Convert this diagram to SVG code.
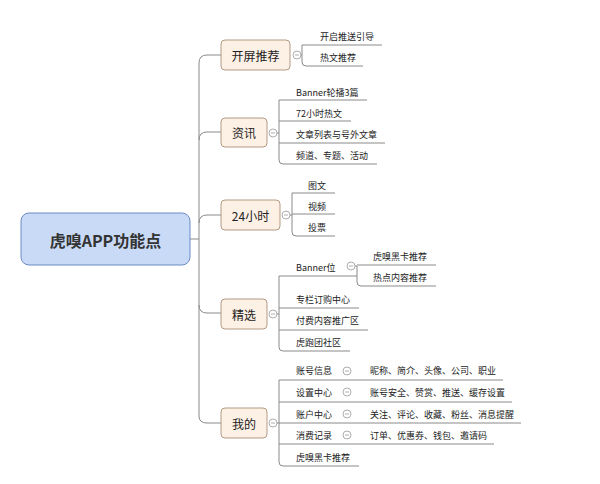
<svg xmlns="http://www.w3.org/2000/svg" width="600" height="484" viewBox="0 0 600 484">
<style>
text{font-family:"Noto Sans CJK SC","Liberation Sans",sans-serif;fill:#222}
.l{font-size:9px}
.b{font-size:12px;text-anchor:middle;dominant-baseline:central}
.bx{fill:#fdf0e5;stroke:#b39b86;stroke-width:1}
.c{fill:#fff;stroke:#999;stroke-width:0.8}
.cm{stroke:#999;stroke-width:0.8}
#connectors path{fill:none;stroke:#8a8a8a;stroke-width:1}
</style>
<rect width="600" height="484" fill="#fff"/>
<g id="connectors">
<path d="M190 239H199M199 63V416M199 63Q199 55 207 55H221M199 140Q199 132 207 132H221M199 223Q199 215 207 215H221M199 305Q199 313 207 313H221M199 416Q199 423 207 423H221"/>
<path d="M301 55H302M302 45V62Q302 66 306 66H363M302 45H382"/>
<path d="M277 133H279M279 100V160Q279 164 283 164H377M279 100H367M279 121H351M279 143H385"/>
<path d="M290 215H292M292 193V232Q292 236 296 236H335M292 193H335M292 214H335"/>
<path d="M277 314H279M279 276V347Q279 351 283 351H350M279 276H357M279 308H359M279 330H368"/>
<path d="M355 266H357V282Q357 286 361 286H436M357 265H436"/>
<path d="M277 423H279M279 380V462Q279 466 283 466H359M279 380H503M279 402H512M279 423H521M279 444H494"/>
</g>
<g id="root"><rect x="21" y="213" width="169" height="52" rx="8" fill="#c8daf6" stroke="#6d8cc4"/><text x="105.500" y="240" style="font-size:16px;font-weight:bold;text-anchor:middle;dominant-baseline:central;fill:#333">虎嗅APP功能点</text></g>
<g id="n1"><rect class="bx" x="221" y="40" width="69" height="30" rx="4"/><text class="b" x="255.500" y="55">开屏推荐</text><circle class="c" cx="297" cy="55" r="4"/><path class="cm" d="M295 55H299"/></g>
<g id="n2"><rect class="bx" x="221" y="118" width="46" height="29" rx="4"/><text class="b" x="244" y="132">资讯</text><circle class="c" cx="273" cy="133" r="4"/><path class="cm" d="M271 133H275"/></g>
<g id="n3"><rect class="bx" x="221" y="200" width="59" height="30" rx="4"/><text class="b" x="250.500" y="215">24小时</text><circle class="c" cx="286" cy="215" r="4"/><path class="cm" d="M284 215H288"/></g>
<g id="n4"><rect class="bx" x="221" y="299" width="46" height="30" rx="4"/><text class="b" x="244" y="314">精选</text><circle class="c" cx="273" cy="314" r="4"/><path class="cm" d="M271 314H275"/></g>
<g id="n5"><rect class="bx" x="221" y="408" width="46" height="30" rx="4"/><text class="b" x="244" y="423">我的</text><circle class="c" cx="273" cy="423" r="4"/><path class="cm" d="M271 423H275"/></g>
<g id="leaves">
<text class="l" x="320" y="40">开启推送引导</text>
<text class="l" x="320" y="61">热文推荐</text>
<text class="l" x="296" y="96">Banner轮播3篇</text>
<text class="l" x="296" y="117">72小时热文</text>
<text class="l" x="296" y="138">文章列表与号外文章</text>
<text class="l" x="296" y="159">频道、专题、活动</text>
<text class="l" x="308" y="189">图文</text>
<text class="l" x="308" y="210">视频</text>
<text class="l" x="308" y="231">投票</text>
<text class="l" x="296" y="271">Banner位</text>
<circle class="c" cx="351" cy="266" r="4"/><path class="cm" d="M349 266H353"/>
<text class="l" x="373" y="260">虎嗅黑卡推荐</text>
<text class="l" x="373" y="281">热点内容推荐</text>
<text class="l" x="296" y="303">专栏订购中心</text>
<text class="l" x="296" y="324">付费内容推广区</text>
<text class="l" x="296" y="346">虎跑团社区</text>
<text class="l" x="296" y="374">账号信息</text>
<circle class="c" cx="347" cy="371" r="4"/><path class="cm" d="M345 371H349"/>
<text class="l" x="370" y="374">昵称、简介、头像、公司、职业</text>
<text class="l" x="296" y="396">设置中心</text>
<circle class="c" cx="347" cy="392" r="4"/><path class="cm" d="M345 392H349"/>
<text class="l" x="370" y="396">账号安全、赞赏、推送、缓存设置</text>
<text class="l" x="296" y="418">账户中心</text>
<circle class="c" cx="347" cy="414" r="4"/><path class="cm" d="M345 414H349"/>
<text class="l" x="370" y="418">关注、评论、收藏、粉丝、消息提醒</text>
<text class="l" x="296" y="439">消费记录</text>
<circle class="c" cx="347" cy="435" r="4"/><path class="cm" d="M345 435H349"/>
<text class="l" x="370" y="439">订单、优惠券、钱包、邀请码</text>
<text class="l" x="296" y="461">虎嗅黑卡推荐</text>
</g>
</svg>
